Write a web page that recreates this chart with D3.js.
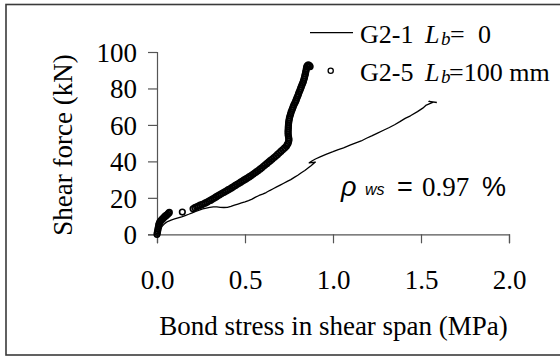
<!DOCTYPE html>
<html>
<head>
<meta charset="utf-8">
<script src="https://cdn.jsdelivr.net/npm/d3@7"></script>
<style>
    body { margin: 0; background: #fff; }
    svg { display: block; }
</style>
</head>
<body>
<svg id="chart" width="560" height="359"></svg>
<script>
// ______________________ data ______________________
var xTicks = [0, 0.5, 1.0, 1.5, 2.0];
var yTicks = [0, 20, 40, 60, 80, 100];

// G2-1, Lb = 0  (bond stress MPa, shear force kN)
var g21 = [
    [0, 0], [0.01, 1.5], [0.02, 3], [0.03, 4.5], [0.045, 6], [0.06, 7], [0.08, 7.8],
    [0.1, 8.4], [0.12, 9], [0.14, 9.6], [0.16, 10.3], [0.18, 11], [0.2, 11.8],
    [0.22, 12.5], [0.24, 13.2], [0.26, 13.9], [0.28, 14.4], [0.3, 14.8], [0.32, 15],
    [0.34, 15], [0.36, 14.8], [0.38, 14.7], [0.4, 14.8], [0.42, 15.3], [0.44, 16],
    [0.46, 16.6], [0.48, 17.2], [0.5, 17.8], [0.52, 18.5], [0.54, 19.3], [0.56, 20.4],
    [0.58, 21.3], [0.6, 22], [0.62, 22.9], [0.64, 24], [0.66, 25], [0.68, 26],
    [0.7, 27], [0.72, 28], [0.74, 29], [0.76, 30], [0.78, 31.2], [0.8, 32.4],
    [0.82, 33.8], [0.84, 35], [0.86, 36.5], [0.875, 37.6], [0.9, 39.6], [0.865, 39.2],
    [0.88, 40.2], [0.9, 41.3], [0.93, 42.6], [0.96, 43.8], [1.0, 45.3], [1.03, 46.5],
    [1.06, 47.4], [1.1, 49.0], [1.13, 50.2], [1.16, 51.2], [1.19, 52.7], [1.22, 54.0],
    [1.25, 55.4], [1.29, 57.2], [1.32, 58.6], [1.35, 60.1], [1.38, 61.8], [1.41, 63.6],
    [1.44, 65.0], [1.48, 67.3], [1.51, 69.2], [1.53, 70.9], [1.57, 72.5], [1.545, 72.9],
    [1.59, 72.3]
];

// G2-5, Lb = 100 mm
var g25 = [
    [0, 0], [0.002, 1], [0.004, 2], [0.006, 3], [0.008, 4], [0.01, 5], [0.012, 5.8],
    [0.015, 6.5], [0.02, 7.2], [0.025, 7.8], [0.03, 8.3], [0.035, 8.8], [0.04, 9.3],
    [0.045, 9.8], [0.05, 10.2], [0.055, 10.6], [0.06, 11], [0.065, 11.5], [0.07, 12],
    [0.144, 12.2],
    [0.205, 14.0], [0.215, 14.6], [0.225, 15.1], [0.235, 15.5], [0.245, 16.0],
    [0.255, 16.3], [0.265, 16.7], [0.275, 17.2], [0.285, 17.7], [0.295, 18.2],
    [0.305, 18.7], [0.315, 19.3], [0.325, 19.9], [0.335, 20.5], [0.345, 21.1],
    [0.355, 21.7], [0.365, 22.2], [0.375, 22.8], [0.385, 23.3], [0.395, 23.9],
    [0.405, 24.5], [0.415, 25.0], [0.425, 25.6], [0.435, 26.2], [0.445, 26.8],
    [0.455, 27.4], [0.465, 28.0], [0.475, 28.6], [0.485, 29.2], [0.495, 29.8],
    [0.505, 30.4], [0.515, 31.0], [0.525, 31.6], [0.535, 32.2], [0.545, 32.9],
    [0.555, 33.6], [0.565, 34.3], [0.575, 35.0], [0.585, 35.7], [0.595, 36.5],
    [0.605, 37.3], [0.615, 38.1], [0.625, 38.9], [0.635, 39.7], [0.645, 40.5],
    [0.655, 41.3], [0.665, 42.1], [0.675, 42.9], [0.685, 43.8], [0.695, 44.7],
    [0.705, 45.6], [0.715, 46.5], [0.725, 47.4], [0.735, 48.3], [0.74, 49.2],
    [0.745, 50.0], [0.748, 51.0], [0.75, 52.0], [0.748, 53.0], [0.746, 54.0],
    [0.745, 55.0], [0.745, 56.0], [0.745, 57.0], [0.746, 58.0], [0.746, 59.0],
    [0.747, 60.0], [0.748, 61.0], [0.749, 62.0], [0.751, 63.0], [0.753, 64.0],
    [0.756, 65.0], [0.759, 66.0], [0.762, 67.0], [0.766, 68.0], [0.77, 69.0],
    [0.774, 70.0], [0.778, 71.0], [0.783, 72.0], [0.788, 73.0], [0.792, 74.0],
    [0.796, 75.0], [0.8, 76.0], [0.804, 77.0], [0.808, 78.0], [0.812, 79.0],
    [0.816, 80.0], [0.82, 81.0], [0.824, 82.0], [0.828, 83.0], [0.832, 84.0],
    [0.835, 85.0], [0.838, 86.0], [0.84, 87.0], [0.843, 88.0], [0.845, 89.0],
    [0.847, 90.0], [0.849, 91.0], [0.851, 92.0], [0.855, 92.6], [0.86, 92.9],
    [0.866, 92.6], [0.87, 92.0]
];

var serif = "'Liberation Serif', 'Times New Roman', serif";
var sans = "'Liberation Sans', Arial, sans-serif";

var svg = d3.select("#chart");

// outer frame
svg.append("rect")
    .attr("x", 6)
    .attr("y", 4.5)
    .attr("width", 600)
    .attr("height", 350.5)
    .attr("fill", "none")
    .attr("stroke", "#3a3a3a")
    .attr("stroke-width", 1.6);

var x = d3.scaleLinear().domain([0, 2]).range([157, 509]);
var y = d3.scaleLinear().domain([0, 100]).range([234.3, 52]);

// axes
var xAxis = svg.append("g")
    .attr("transform", "translate(0," + y(0) + ")")
    .call(d3.axisBottom(x).tickValues(xTicks).tickSize(9).tickPadding(27).tickFormat(d3.format(".1f")));

var yAxis = svg.append("g")
    .attr("transform", "translate(" + x(0) + ",0)")
    .call(d3.axisLeft(y).tickValues(yTicks).tickSize(9).tickPadding(11));

[xAxis, yAxis].forEach((a) => {
    a.select(".domain").attr("stroke", "#555").attr("stroke-width", 1.2);
    a.selectAll(".tick line").attr("stroke", "#555").attr("stroke-width", 1.2);
    a.selectAll("text")
        .attr("fill", "#000")
        .style("font-family", serif)
        .style("font-size", "27px");
});
yAxis.selectAll("text").attr("dy", "0.34em");

// axis titles
svg.append("text")
    .attr("x", 333.5)
    .attr("y", 335)
    .attr("text-anchor", "middle")
    .style("font-family", serif)
    .style("font-size", "27px")
    .text("Bond stress in shear span (MPa)");

svg.append("text")
    .attr("transform", "translate(72,145) rotate(-90)")
    .attr("text-anchor", "middle")
    .style("font-family", serif)
    .style("font-size", "27px")
    .text("Shear force (kN)");

// G2-1 line
var line = d3.line()
    .x((d) => x(d[0]))
    .y((d) => y(d[1]));

svg.append("path")
    .datum(g21)
    .attr("d", line)
    .attr("fill", "none")
    .attr("stroke", "#000")
    .attr("stroke-width", 1.3)
    .attr("stroke-linejoin", "round");

// G2-5 markers
svg.selectAll(".pt")
    .data(g25)
    .enter()
    .append("circle")
    .attr("class", "pt")
    .attr("cx", (d) => x(d[0]))
    .attr("cy", (d) => y(d[1]))
    .attr("r", 2.8)
    .attr("fill", "none")
    .attr("stroke", "#000")
    .attr("stroke-width", 1.6);

// legend
var legend = svg.append("g").style("font-family", serif).style("font-size", "26px");

legend.append("line")
    .attr("x1", 310).attr("x2", 353)
    .attr("y1", 32.7).attr("y2", 32.7)
    .attr("stroke", "#000")
    .attr("stroke-width", 1.3);

legend.append("circle")
    .attr("cx", 330.7).attr("cy", 70.7).attr("r", 2.6)
    .attr("fill", "none").attr("stroke", "#000").attr("stroke-width", 1.3);

function legendRow(yy, name, rest) {
    var t = legend.append("text").attr("y", yy);
    t.append("tspan").attr("x", 360).text(name);
    t.append("tspan").attr("x", 425).style("font-style", "italic").text("L");
    t.append("tspan").attr("x", 441).attr("dy", 2).style("font-style", "italic").style("font-size", "19px").text("b");
    rest.forEach((r) => {
        t.append("tspan").attr("x", r[0]).attr("y", yy).text(r[1]);
    });
}
legendRow(43, "G2-1", [[450, "="], [478, "0"]]);
legendRow(81, "G2-5", [[449, "=100 mm"]]);

// reinforcement ratio note
var note = svg.append("text").attr("y", 196);
note.append("tspan").attr("x", 341).style("font-family", sans).style("font-style", "italic").style("font-size", "27px").text("\u03C1");
note.append("tspan").attr("x", 365).attr("y", 195).style("font-family", sans).style("font-style", "italic").style("font-size", "16px").text("ws");
note.append("tspan").attr("x", 397).attr("y", 196).style("font-family", sans).style("font-size", "27px").text("=");
note.append("tspan").attr("x", 422).style("font-family", serif).style("font-size", "27px").text("0.97");
note.append("tspan").attr("x", 482).style("font-family", sans).style("font-size", "27px").text("%");
</script>
</body>
</html>
